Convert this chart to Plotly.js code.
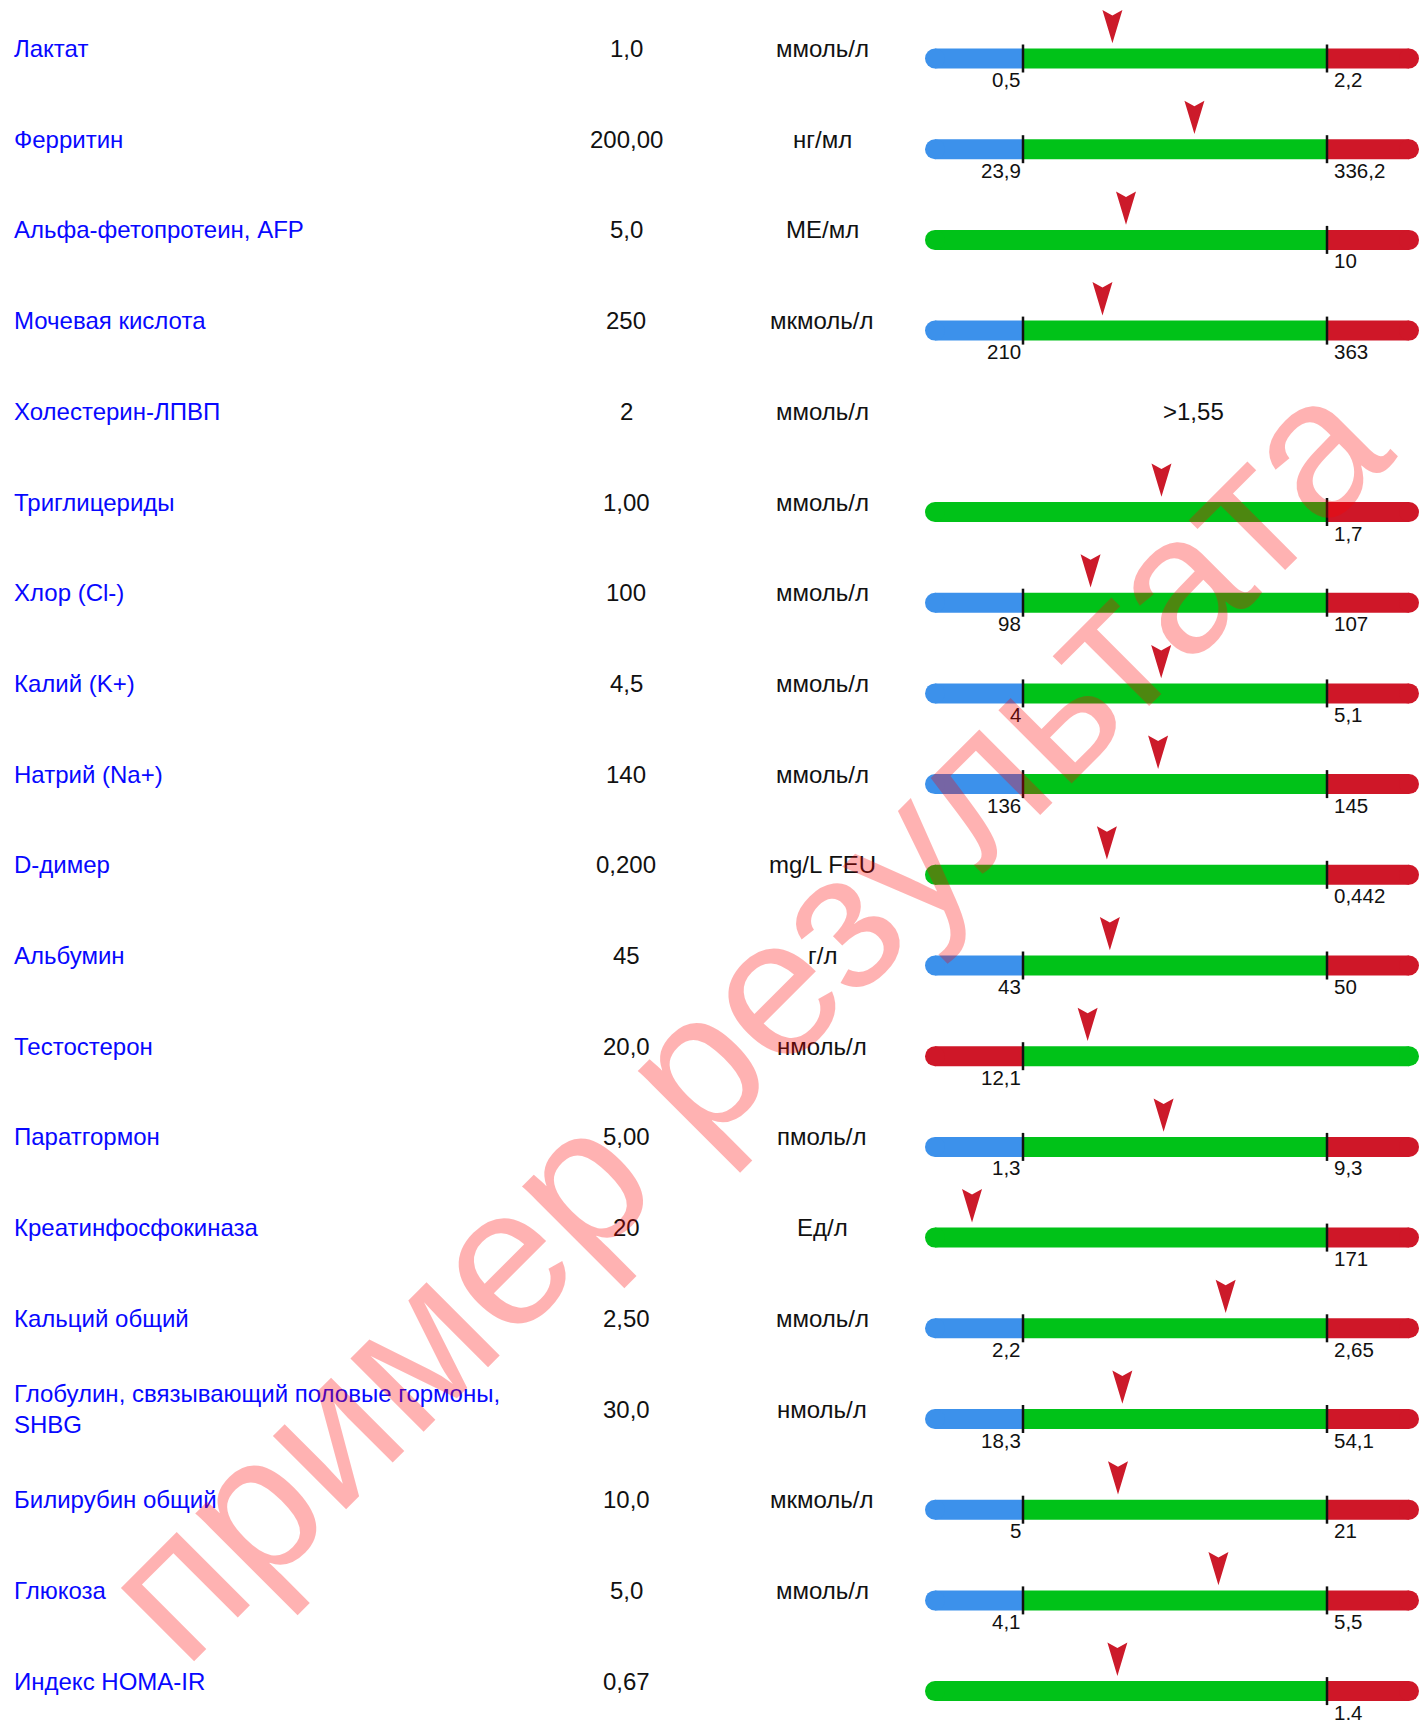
<!DOCTYPE html>
<html>
<head>
<meta charset="utf-8">
<script src="https://cdn.plot.ly/plotly-3.0.1.min.js"></script>
<style>
  html, body { margin: 0; padding: 0; background: #fff; }
  #chart { width: 1420px; height: 1720px; }
</style>
</head>
<body>
<div id="chart"></div>
<script>
// ---------------- DATA ----------------
const names = [
  'Лактат', 'Ферритин', 'Альфа-фетопротеин, AFP', 'Мочевая кислота', 'Холестерин-ЛПВП',
  'Триглицериды', 'Хлор (Cl-)', 'Калий (K+)', 'Натрий (Na+)', 'D-димер', 'Альбумин',
  'Тестостерон', 'Паратгормон', 'Креатинфосфокиназа', 'Кальций общий',
  'Глобулин, связывающий половые гормоны,<br>SHBG', 'Билирубин общий', 'Глюкоза', 'Индекс HOMA-IR'
];
const valueText = ['1,0', '200,00', '5,0', '250', '2', '1,00', '100', '4,5', '140', '0,200', '45',
  '20,0', '5,00', '20', '2,50', '30,0', '10,0', '5,0', '0,67'];
const values = [1.0, 200.00, 5.0, 250, 2, 1.00, 100, 4.5, 140, 0.200, 45,
  20.0, 5.00, 20, 2.50, 30.0, 10.0, 5.0, 0.67];
const units = ['ммоль/л', 'нг/мл', 'МЕ/мл', 'мкмоль/л', 'ммоль/л', 'ммоль/л', 'ммоль/л', 'ммоль/л',
  'ммоль/л', 'mg/L FEU', 'г/л', 'нмоль/л', 'пмоль/л', 'Ед/л', 'ммоль/л', 'нмоль/л', 'мкмоль/л', 'ммоль/л', ''];
const lowRef = [0.5, 23.9, null, 210, null, null, 98, 4, 136, null, 43, 12.1, 1.3, null, 2.2, 18.3, 5, 4.1, null];
const highRef = [2.2, 336.2, 10, 363, null, 1.7, 107, 5.1, 145, 0.442, 50, null, 9.3, 171, 2.65, 54.1, 21, 5.5, 1.4];
const lowIsCritical = [false, false, false, false, false, false, false, false, false, false, false,
  true, false, false, false, false, false, false, false];
const textRef = [null, null, null, null, '>1,55', null, null, null, null, null, null,
  null, null, null, null, null, null, null, null];

// ---------------- LAYOUT CONSTANTS ----------------
const W = 1420, H = 1720;
const ROW_PX = 90.7, FIRST_ROW_PX = 48.5;
const GAUGE_L = 925, GAUGE_R = 1419, GAUGE_PX = GAUGE_R - GAUGE_L;
const LOW_POS = (1023 - GAUGE_L) / GAUGE_PX;
const HIGH_POS = (1327 - GAUGE_L) / GAUGE_PX;
const BAR_PX = 20, BAR_OFFSET_PX = 10;
const R_DATA = (BAR_PX / 2) / GAUGE_PX;
const BLUE = '#3c91eb', GREEN = '#00c218', RED = '#cf1728', ARROW = '#cc1a2a';
const FONT = 'Liberation Sans, Arial, sans-serif';
const MAIN_SIZE = 24, REF_SIZE = 20.5;
const fmt = v => String(v).replace('.', ',');

const yTop = -FIRST_ROW_PX / ROW_PX;
const yBottom = (H - FIRST_ROW_PX) / ROW_PX;
const barOff = BAR_OFFSET_PX / ROW_PX;

function markerPos(i) {
  const v = values[i], lo = lowRef[i], hi = highRef[i];
  if (lo != null && hi != null) return LOW_POS + (v - lo) / (hi - lo) * (HIGH_POS - LOW_POS);
  if (hi != null) return v / hi * HIGH_POS;
  if (lo != null) return LOW_POS + (v - lo) / (4 * lo) * (1 - LOW_POS);
  return null;
}

// ---------------- BUILD ----------------
const barY = [], barBase = [], barLen = [], barCol = [];
const capX = [], capY = [], capCol = [];
const divX = [], divY = [];
const annotations = [], shapes = [];
const mX = [], mY = [], mText = [];

names.forEach((n, i) => {
  annotations.push({xref: 'paper', yref: 'y', x: 12 / W, y: i, xanchor: 'left', yanchor: 'middle',
    text: n, showarrow: false, align: 'left', font: {family: FONT, size: MAIN_SIZE, color: '#0808ff'}});
  annotations.push({xref: 'paper', yref: 'y', x: 626 / W, y: i, xanchor: 'center', yanchor: 'middle',
    text: valueText[i], showarrow: false, font: {family: FONT, size: MAIN_SIZE, color: '#111'}});
  if (units[i]) annotations.push({xref: 'paper', yref: 'y', x: 822 / W, y: i, xanchor: 'center', yanchor: 'middle',
    text: units[i], showarrow: false, font: {family: FONT, size: MAIN_SIZE, color: '#111'}});
  if (textRef[i]) {
    annotations.push({xref: 'paper', yref: 'y', x: 1193 / W, y: i, xanchor: 'center', yanchor: 'middle',
      text: textRef[i], showarrow: false, font: {family: FONT, size: MAIN_SIZE, color: '#111'}});
    return;
  }
  const lo = lowRef[i], hi = highRef[i];
  const segs = [];
  if (lo != null && hi != null) {
    segs.push([0, LOW_POS, BLUE], [LOW_POS, HIGH_POS, GREEN], [HIGH_POS, 1, RED]);
  } else if (hi != null) {
    segs.push([0, HIGH_POS, GREEN], [HIGH_POS, 1, RED]);
  } else if (lo != null) {
    segs.push([0, LOW_POS, lowIsCritical[i] ? RED : BLUE], [LOW_POS, 1, GREEN]);
  }
  const yb = i + barOff;
  segs.forEach((s, k) => {
    let a = s[0], b = s[1];
    if (k === 0) a += R_DATA;
    if (k === segs.length - 1) b -= R_DATA;
    barY.push(yb); barBase.push(a); barLen.push(b - a); barCol.push(s[2]);
    if (k > 0) { divX.push(s[0]); divY.push(yb); }
  });
  capX.push(R_DATA, 1 - R_DATA); capY.push(yb, yb); capCol.push(segs[0][2], segs[segs.length - 1][2]);
  if (lo != null) annotations.push({xref: 'x', yref: 'y', x: LOW_POS, y: yb, xanchor: 'right', yanchor: 'middle',
    yshift: -21, xshift: 0, text: fmt(lo), showarrow: false, font: {family: FONT, size: REF_SIZE, color: '#111'}});
  if (hi != null) annotations.push({xref: 'x', yref: 'y', x: HIGH_POS, y: yb, xanchor: 'left', yanchor: 'middle',
    yshift: -21, xshift: 5, text: fmt(hi), showarrow: false, font: {family: FONT, size: REF_SIZE, color: '#111'}});
  const mx = markerPos(i);
  mX.push(mx); mY.push(i); mText.push(n + ': ' + valueText[i]);
  shapes.push({type: 'path', xref: 'x', yref: 'y', xsizemode: 'pixel', ysizemode: 'pixel',
    xanchor: mx, yanchor: i, path: 'M0,5.2 L10,38.5 L0,33 L-10,38.5 Z',
    fillcolor: ARROW, line: {width: 0}, layer: 'above'});
});

annotations.push({xref: 'paper', yref: 'paper', x: 743 / W, y: 1 - 1016 / H, xanchor: 'center', yanchor: 'middle',
  text: 'пример результата', textangle: -45, showarrow: false,
  font: {family: FONT, size: 196, color: 'rgba(255,0,0,0.3)'}});

const traces = [
  {type: 'bar', orientation: 'h', y: barY, base: barBase, x: barLen, width: BAR_PX / ROW_PX,
    marker: {color: barCol, line: {width: 0}}, hoverinfo: 'skip', showlegend: false},
  {type: 'scatter', mode: 'markers', x: capX, y: capY, hoverinfo: 'skip', showlegend: false,
    marker: {symbol: 'circle', size: BAR_PX, color: capCol, line: {width: 0}}},
  {type: 'scatter', mode: 'markers', x: divX, y: divY, hoverinfo: 'skip', showlegend: false,
    marker: {symbol: 'line-ns', size: BAR_PX, color: '#111', line: {width: 2.5, color: '#111'}}},
  {type: 'scatter', mode: 'markers', x: mX, y: mY, text: mText, hoverinfo: 'text', showlegend: false,
    marker: {size: 1, opacity: 0}}
];

const layout = {
  width: W, height: H, margin: {l: 0, r: 0, t: 0, b: 0, pad: 0},
  paper_bgcolor: '#fff', plot_bgcolor: '#fff', barmode: 'overlay', showlegend: false,
  xaxis: {domain: [GAUGE_L / W, GAUGE_R / W], range: [0, 1], visible: false, fixedrange: true},
  yaxis: {range: [yBottom, yTop], visible: false, fixedrange: true},
  annotations: annotations, shapes: shapes
};

Plotly.newPlot('chart', traces, layout, {displayModeBar: false, staticPlot: true});
</script>
</body>
</html>
